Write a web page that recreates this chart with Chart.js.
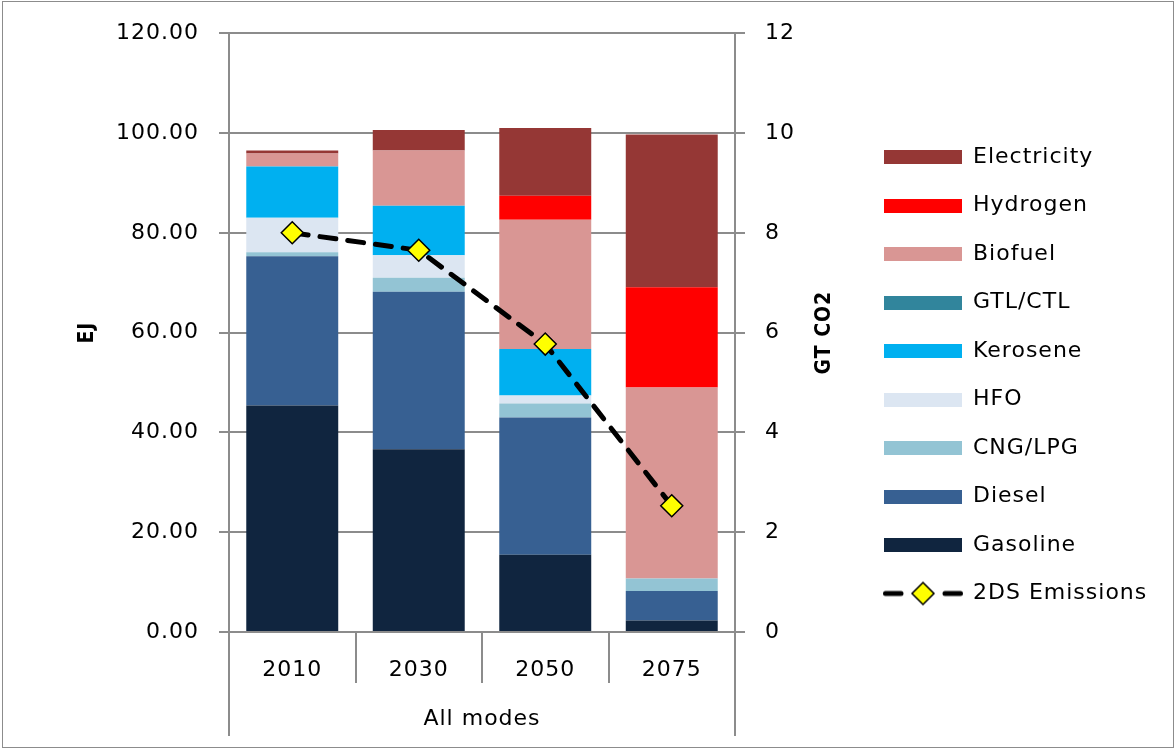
<!DOCTYPE html>
<html lang="en">
<head>
  <meta charset="UTF-8" />
  <title>Transport energy use by fuel</title>
  <script src="https://cdn.jsdelivr.net/npm/chart.js"></script>
  <style>
    body { margin: 0; background: #fff; }
    #wrap { position: relative; width: 1176px; height: 750px; }
    #frame {
      position: absolute; left: 2px; top: 1px; width: 1172px; height: 747px;
      border: 1px solid #8c8c8c; box-sizing: border-box; pointer-events: none;
    }
  </style>
</head>
<body>
  <div id="wrap">
    <canvas id="fuelChart" width="1176" height="750"></canvas>
    <div id="frame"></div>
  </div>

  <script>
    // energy use (EJ) by fuel, all transport modes
    const years = ['2010', '2030', '2050', '2075'];
    const gasoline    = [45.4, 36.6, 15.5, 2.3];
    const diesel      = [29.9, 31.6, 27.5, 5.9];
    const cngLpg      = [0.8, 2.8, 2.8, 2.5];
    const hfo         = [6.9, 4.5, 1.6, 0];
    const kerosene    = [10.3, 9.9, 9.3, 0];
    const gtlCtl      = [0, 0, 0, 0];
    const biofuel     = [2.6, 11.1, 25.9, 38.3];
    const hydrogen    = [0, 0, 4.8, 20.1];
    const electricity = [0.6, 4.1, 13.6, 30.6];
    // GT CO2, right axis
    const emissions   = [8.0, 7.65, 5.77, 2.53];

    const yTicks = { min: 0, max: 120, step: 20 };
    const y1Ticks = { min: 0, max: 12, step: 2 };

    const FAMILY = "'DejaVu Sans', sans-serif";
    const TITLE_FAMILY = "'Liberation Sans Narrow', 'DejaVu Sans Condensed', sans-serif";
    const SPACING = '1px';
    const GRID = '#8c8c8c';
    const labelFont = { family: FAMILY, size: 22 };
    const titleFont = { family: TITLE_FAMILY, size: 21, weight: 'bold' };

    const fuels = [
      { label: 'Gasoline',    data: gasoline,    color: '#10253f' },
      { label: 'Diesel',      data: diesel,      color: '#376092' },
      { label: 'CNG/LPG',     data: cngLpg,      color: '#93c4d4' },
      { label: 'HFO',         data: hfo,         color: '#dce6f2' },
      { label: 'Kerosene',    data: kerosene,    color: '#00b0f0' },
      { label: 'GTL/CTL',     data: gtlCtl,      color: '#31859c' },
      { label: 'Biofuel',     data: biofuel,     color: '#d99694' },
      { label: 'Hydrogen',    data: hydrogen,    color: '#ff0000' },
      { label: 'Electricity', data: electricity, color: '#953735' }
    ];

    // legend swatches
    function swatch(color) {
      const c = document.createElement('canvas');
      c.width = 78; c.height = 14;
      const g = c.getContext('2d');
      g.fillStyle = color;
      g.fillRect(0, 0, 78, 14);
      return c;
    }
    function lineSwatch() {
      const c = document.createElement('canvas');
      c.width = 80; c.height = 26;
      const g = c.getContext('2d');
      g.strokeStyle = '#000';
      g.lineWidth = 5;
      g.lineCap = 'round';
      g.beginPath();
      g.moveTo(2.5, 13); g.lineTo(18, 13);
      g.moveTo(62, 13); g.lineTo(77.5, 13);
      g.stroke();
      g.beginPath();
      g.moveTo(40, 2); g.lineTo(51, 13); g.lineTo(40, 24); g.lineTo(29, 13);
      g.closePath();
      g.fillStyle = '#ffff00';
      g.fill();
      g.lineWidth = 1.5;
      g.stroke();
      return c;
    }

    const datasets = [{
      type: 'line',
      label: '2DS Emissions',
      data: emissions,
      yAxisID: 'y1',
      order: 0,
      borderColor: '#000',
      borderWidth: 5,
      borderDash: [16, 12],
      borderCapStyle: 'round',
      pointStyle: 'rectRot',
      pointRadius: 11,
      pointHoverRadius: 11,
      pointBackgroundColor: '#ffff00',
      pointBorderColor: '#000',
      pointBorderWidth: 1.5,
      fill: false,
      tension: 0
    }].concat(fuels.map(f => ({
      type: 'bar',
      label: f.label,
      data: f.data,
      yAxisID: 'y',
      order: 1,
      backgroundColor: f.color,
      borderWidth: 0,
      barPercentage: 0.727,
      categoryPercentage: 1
    })));

    const swatches = [lineSwatch()].concat(fuels.map(f => swatch(f.color)));

    // size the right padding so the legend column starts at a fixed x
    const m = document.createElement('canvas').getContext('2d');
    m.font = '22px ' + FAMILY;
    m.letterSpacing = SPACING;
    const longest = Math.max(...datasets.map(d => m.measureText(d.label).width));
    const padRight = 282 - (78 + 11 + longest);

    const spacingPlugin = {
      id: 'spacing',
      beforeUpdate(chart) { chart.ctx.letterSpacing = SPACING; },
      beforeDraw(chart) { chart.ctx.letterSpacing = SPACING; }
    };

    // outer category bracket lines and right-hand axis title
    const extrasPlugin = {
      id: 'extras',
      afterDraw(chart) {
        const { ctx, chartArea } = chart;
        ctx.save();
        ctx.strokeStyle = GRID;
        ctx.lineWidth = 2;
        ctx.beginPath();
        [chartArea.left, chartArea.right].forEach(x => {
          ctx.moveTo(x, chartArea.bottom);
          ctx.lineTo(x, 736);
        });
        ctx.stroke();

        const y1 = chart.scales.y1;
        ctx.translate(y1.right - 32.5, (chartArea.top + chartArea.bottom) / 2);
        ctx.rotate(-Math.PI / 2);
        ctx.font = 'bold 21px ' + TITLE_FAMILY;
        ctx.fillStyle = '#000';
        ctx.textAlign = 'center';
        ctx.textBaseline = 'middle';
        ctx.fillText('GT CO2', 0, 0);
        ctx.restore();
      }
    };

    Chart.defaults.color = '#000';
    Chart.defaults.font.family = FAMILY;

    new Chart(document.getElementById('fuelChart'), {
      type: 'bar',
      data: { labels: years, datasets },
      options: {
        responsive: false,
        animation: false,
        layout: { padding: { top: 30, right: padRight, bottom: 29.5, left: 0 } },
        plugins: {
          tooltip: { enabled: false },
          legend: {
            position: 'right',
            align: 'center',
            reverse: true,
            maxWidth: 420,
            labels: {
              usePointStyle: true,
              pointStyleWidth: 78,
              boxHeight: 14,
              padding: 26.5,
              color: '#000',
              font: labelFont,
              generateLabels(chart) {
                const items = Chart.defaults.plugins.legend.labels.generateLabels(chart);
                items.forEach(it => { it.pointStyle = swatches[it.datasetIndex]; });
                return items;
              }
            }
          }
        },
        scales: {
          x: {
            stacked: true,
            grid: { offset: true, drawOnChartArea: false, color: GRID, lineWidth: 2, tickLength: 51 },
            border: { color: GRID, width: 2 },
            ticks: { padding: -26, font: labelFont },
            title: { display: true, text: 'All modes', font: labelFont, padding: { top: 0, bottom: -12 } },
            afterFit(s) { s.height = 88.5; }
          },
          y: {
            stacked: true,
            min: yTicks.min,
            max: yTicks.max,
            ticks: { stepSize: yTicks.step, padding: 20, font: labelFont, callback: v => v.toFixed(2) },
            grid: { color: GRID, lineWidth: 2, tickLength: 10 },
            border: { color: GRID, width: 2 },
            title: { display: true, text: 'EJ', font: titleFont, padding: { top: 75, bottom: 0 } },
            afterFit(s) { s.width = 229; }
          },
          y1: {
            position: 'right',
            min: y1Ticks.min,
            max: y1Ticks.max,
            ticks: { stepSize: y1Ticks.step, padding: 20, font: labelFont },
            grid: { drawOnChartArea: false, color: GRID, lineWidth: 2, tickLength: 10 },
            border: { color: GRID, width: 2 },
            afterFit(s) { s.width = 122.5; }
          }
        }
      },
      plugins: [spacingPlugin, extrasPlugin]
    });
  </script>
</body>
</html>
